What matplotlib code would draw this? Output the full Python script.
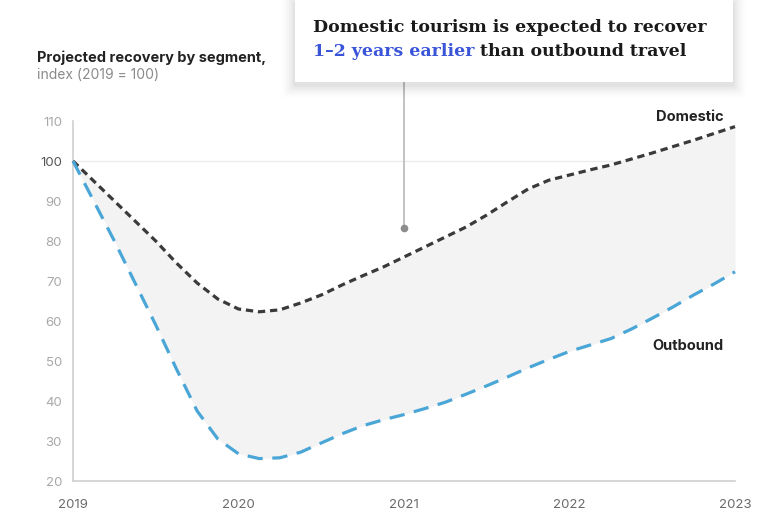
import matplotlib
matplotlib.use("Agg")
import matplotlib.pyplot as plt
from matplotlib.patches import FancyBboxPatch

# Projection by eighth of a year, index 2019 = 100
years = [2019.000, 2019.125, 2019.250, 2019.375, 2019.500, 2019.625, 2019.750, 2019.875,
         2020.000, 2020.125, 2020.250, 2020.375, 2020.500, 2020.625, 2020.750, 2020.875,
         2021.000, 2021.125, 2021.250, 2021.375, 2021.500, 2021.625, 2021.750, 2021.875,
         2022.000, 2022.125, 2022.250, 2022.375, 2022.500, 2022.625, 2022.750, 2022.875,
         2023.000]
domestic = [100, 95, 90, 85, 80, 74.5, 69.5, 65.5,
            63, 62.3, 62.8, 64.5, 66.5, 69, 71.3, 73.5,
            76, 78.5, 81, 83.5, 86.5, 89.8, 93, 95.2,
            96.5, 97.8, 99, 100.5, 102, 103.6, 105.2, 106.9,
            108.6]
outbound = [100, 90, 80, 69.5, 59, 48, 37.5, 30.5,
            26.8, 25.6, 25.8, 27.2, 29.5, 31.8, 33.8, 35.3,
            36.6, 38.1, 39.7, 41.7, 43.8, 46, 48.3, 50.4,
            52.4, 54, 55.6, 58, 60.7, 63.5, 66.5, 69.3,
            72.3]

year_ticks = [2019, 2020, 2021, 2022, 2023]
value_ticks = [20, 30, 40, 50, 60, 70, 80, 90, 100, 110]

SANS = ["Inter", "DejaVu Sans"]
SERIF = ["DejaVu Serif"]
BLUE_LINE = "#4aa6d6"
DARK_LINE = "#3a3a3a"
TICK_GREY = "#a8a8a8"
HIGHLIGHT = "#3b55d9"

W, H = 776, 516
fig = plt.figure(figsize=(W / 100, H / 100), dpi=100)
fig.patch.set_facecolor("white")

ax = fig.add_axes([73 / W, (H - 481) / H, (735 - 73) / W, (481 - 121) / H])
ax.set_xlim(2019, 2023)
ax.set_ylim(20, 110)

# shaded gap between the two segments
ax.fill_between(years, domestic, outbound, color="#f3f3f3", zorder=1, linewidth=0)

# reference line at 100
ax.axhline(100, color="#ececec", lw=1, zorder=0.5)

ax.plot(years, domestic, color=DARK_LINE, lw=2.3, dashes=(2.3, 1.5), zorder=3,
        clip_on=False)
ax.plot(years, outbound, color=BLUE_LINE, lw=2.3, dashes=(4.8, 3.0), zorder=3,
        clip_on=False)

for side in ["top", "right"]:
    ax.spines[side].set_visible(False)
for side in ["left", "bottom"]:
    ax.spines[side].set_color("#d0d0d0")
    ax.spines[side].set_linewidth(1.2)

ax.set_xticks(year_ticks)
ax.set_xticklabels([str(y) for y in year_ticks])
ax.set_yticks(value_ticks)
ax.set_yticklabels([str(v) for v in value_ticks])
ax.tick_params(axis="x", length=0, pad=13, labelsize=9.5, labelcolor="#6a6a6a")
ax.tick_params(axis="y", length=0, pad=8, labelsize=9.5, labelcolor=TICK_GREY)
for lbl in ax.get_xticklabels() + ax.get_yticklabels():
    lbl.set_family(SANS)
for lbl in ax.get_yticklabels():
    if lbl.get_text() == "100":
        lbl.set_color("#555555")

# series labels
ax.text(2022.93, 111, "Domestic", ha="right", va="center", fontsize=10.5,
        fontweight="bold", family=SANS, color="#222222")
ax.text(2022.93, 53.7, "Outbound", ha="right", va="center", fontsize=10.5,
        fontweight="bold", family=SANS, color="#222222")

# chart heading
fig.text(37 / W, 1 - 58 / H, "Projected recovery by segment,", fontsize=10.5,
         fontweight="bold", family=SANS, color="#222222", va="center")
fig.text(37 / W, 1 - 75 / H, "index (2019 = 100)", fontsize=10,
         family=SANS, color="#8a8a8a", va="center")

# callout box with a soft shadow
bx0, by0, bx1, by1 = 295, 0, 733, 82
for i, a in enumerate([0.03, 0.025, 0.02, 0.016, 0.012, 0.008, 0.005]):
    g = 2 + i * 2
    fig.patches.append(FancyBboxPatch(
        ((bx0 - g) / W, 1 - (by1 + g + 3) / H), (bx1 - bx0 + 2 * g) / W,
        (by1 - by0 + 2 * g) / H, boxstyle="round,pad=0,rounding_size=0.006",
        transform=fig.transFigure, facecolor="black", edgecolor="none",
        alpha=a, zorder=5))
fig.patches.append(FancyBboxPatch(
    (bx0 / W, 1 - by1 / H), (bx1 - bx0) / W, (by1 - by0) / H,
    boxstyle="square,pad=0", transform=fig.transFigure,
    facecolor="white", edgecolor="none", zorder=6))

fig.text(313 / W, 1 - 28 / H, "Domestic tourism is expected to recover",
         fontsize=12.5, fontweight="bold", family=SERIF, color="#1a1a1a",
         va="center", zorder=7)
t_blue = fig.text(313 / W, 1 - 52 / H, "1\u20132 years earlier", fontsize=12.5,
                  fontweight="bold", family=SERIF, color=HIGHLIGHT,
                  va="center", zorder=7)
fig.canvas.draw()
bb = t_blue.get_window_extent()
fig.text((bb.x1 + 5) / W, 1 - 52 / H, "than outbound travel", fontsize=12.5,
         fontweight="bold", family=SERIF, color="#1a1a1a", va="center", zorder=7)

# pointer from the callout into the shaded gap
px = 404
fig.add_artist(plt.Line2D([px / W, px / W], [1 - by1 / H, 1 - 226 / H],
                          color="#b8b8b8", lw=1.2, zorder=4))
fig.add_artist(plt.Line2D([px / W], [1 - 228 / H], marker="o", markersize=4.5,
                          color="#8c8c8c", lw=0, zorder=4))

fig.savefig("out.png", dpi=100, facecolor="white")
